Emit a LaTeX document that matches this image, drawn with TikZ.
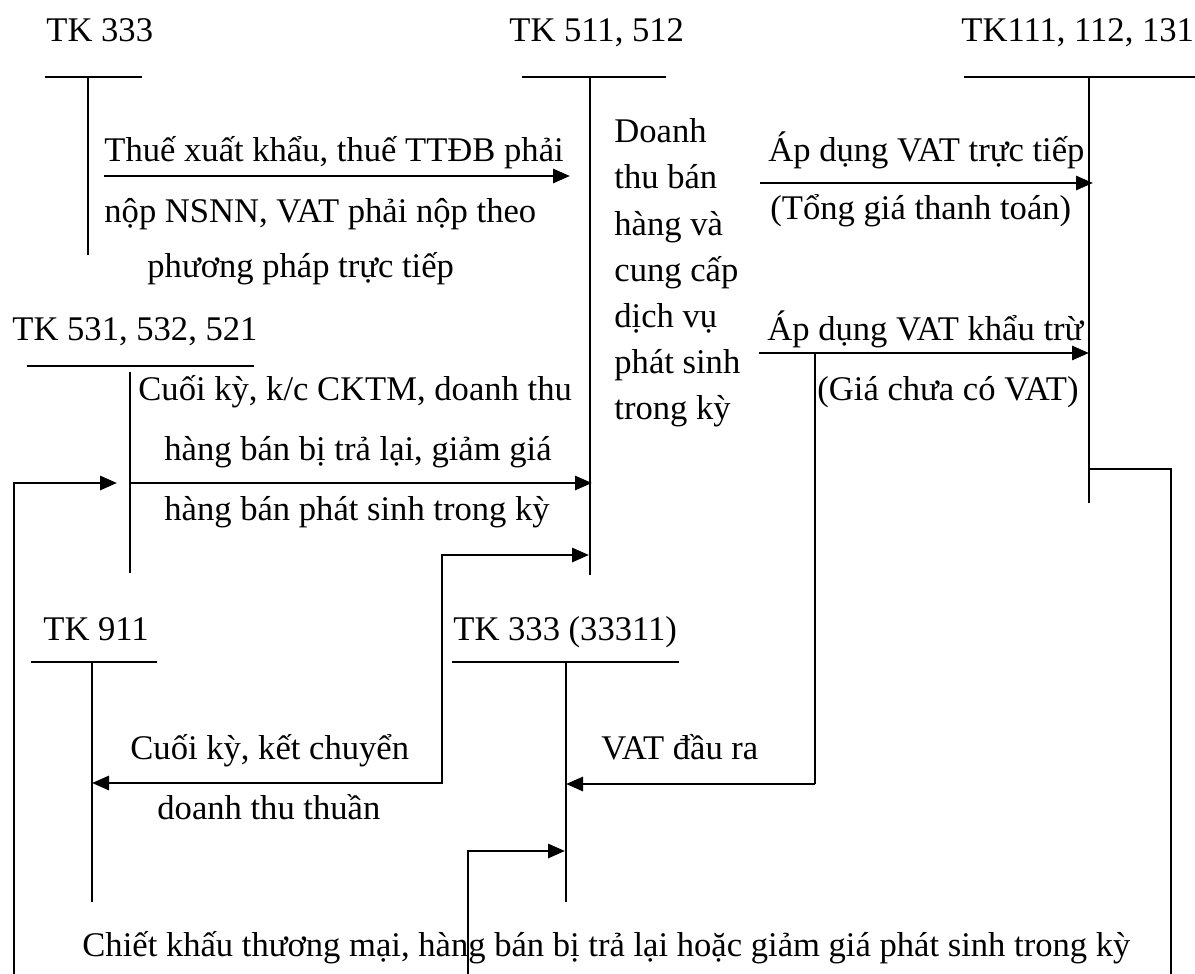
\documentclass[tikz,border=0pt]{standalone}
\usepackage{fontspec}
\setmainfont{Liberation Serif}
\usetikzlibrary{arrows.meta}
\begin{document}
\begin{tikzpicture}[x=0.5pt,y=-0.5pt,
  lbl/.style={inner sep=0pt, anchor=base west, font=\fontsize{17.3}{20}\selectfont},
  tline/.style={line width=1pt},
  flow/.style={line width=1.4pt, -{Triangle[length=8.5pt,width=7pt]}},
  twoway/.style={line width=1.4pt, {Triangle[length=8.5pt,width=7pt]}-{Triangle[length=8.5pt,width=7pt]}},
  link/.style={line width=1.2pt}]
\useasboundingbox (0,0) rectangle (1195,974);

% ---- account titles ----
\node[lbl] (t333)   at (46,42)   {TK 333};
\node[lbl] (t511)   at (509,42)  {TK 511, 512};
\node[lbl] (t111)   at (961,42)  {TK111, 112, 131};
\node[lbl] (t531)   at (12,340)  {TK 531, 532, 521};
\node[lbl] (t911)   at (43,640)  {TK 911};
\node[lbl] (t33311) at (453,640) {TK 333 (33311)};

% ---- T-account axes ----
\coordinate (a333)   at (88,77);   \coordinate (e333)   at (88,255);
\coordinate (a511)   at (590,77);  \coordinate (e511)   at (590,575);
\coordinate (a111)   at (1089,77); \coordinate (e111)   at (1089,503);
\coordinate (a531)   at (130,372); \coordinate (e531)   at (130,573);
\coordinate (a911)   at (92,662);  \coordinate (e911)   at (92,902);
\coordinate (a33311) at (566,662); \coordinate (e33311) at (566,902);

\draw[tline] (45,77) -- (142,77);   \draw[tline] (a333) -- (e333);
\draw[tline] (522,77) -- (666,77);  \draw[tline] (a511) -- (e511);
\draw[tline] (964,77) -- (1195,77); \draw[tline] (a111) -- (e111);
\draw[tline] (27,366) -- (254,366); \draw[tline] (a531) -- (e531);
\draw[tline] (31,662) -- (157,662); \draw[tline] (a911) -- (e911);
\draw[tline] (452,662) -- (679,662);\draw[tline] (a33311) -- (e33311);

% ---- connector end points ----
\coordinate (s1) at (104,176);  \coordinate (p1) at (570,176);
\coordinate (s2) at (760,183);  \coordinate (p2) at (1093,183);
\coordinate (s3) at (759,353);  \coordinate (p3) at (1089,353);
\coordinate (k3) at (815,353);  \coordinate (k3b) at (815,784);
\coordinate (p4) at (566,784);
\coordinate (s5) at (130,483);  \coordinate (p5) at (592,483);
\coordinate (b6) at (14,974);   \coordinate (k6) at (14,483);   \coordinate (p6) at (117,483);
\coordinate (p7a) at (92,783);  \coordinate (k7a) at (442,783); \coordinate (k7b) at (442,555); \coordinate (p7b) at (589,555);
\coordinate (b8) at (468,974);  \coordinate (k8) at (468,851);  \coordinate (p8) at (565,851);
\coordinate (k9) at (1089,469); \coordinate (k9b) at (1171,469); \coordinate (b9) at (1171,974);

% ---- connectors ----
\draw[flow] (s1) -- (p1);
\draw[flow] (s2) -- (p2);
\draw[flow] (s3) -- (p3);
\draw[link] (k3) -- (k3b);
\draw[flow] (k3b) -- (p4);
\draw[flow] (s5) -- (p5);
\draw[flow] (b6) -- (k6) -- (p6);
\draw[twoway] (p7a) -- (k7a) -- (k7b) -- (p7b);
\draw[flow] (b8) -- (k8) -- (p8);
\draw[link] (k9) -- (k9b) -- (b9);

% ---- labels ----
\node[lbl] (l1a) at (104,162) {Thuế xuất khẩu, thuế TTĐB phải};
\node[lbl] (l1b) at (104,222) {nộp NSNN, VAT phải nộp theo};
\node[lbl] (l1c) at (147,278) {phương pháp trực tiếp};

\foreach \t [count=\i] in {Doanh, thu bán, hàng và, cung cấp, dịch vụ, phát sinh, trong kỳ}
  \node[lbl] (d\i) at (614,{143+46*(\i-1)}) {\t};

\node[lbl] (l2a) at (768,162) {Áp dụng VAT trực tiếp};
\node[lbl] (l2b) at (770,220) {(Tổng giá thanh toán)};
\node[lbl] (l3a) at (767,340) {Áp dụng VAT khẩu trừ};
\node[lbl] (l3b) at (817,400) {(Giá chưa có VAT)};

\node[lbl] (l5a) at (138,400) {Cuối kỳ, k/c CKTM, doanh thu};
\node[lbl] (l5b) at (164,460) {hàng bán bị trả lại, giảm giá};
\node[lbl] (l5c) at (164,520) {hàng bán phát sinh trong kỳ};

\node[lbl] (l7a) at (130,759) {Cuối kỳ, kết chuyển};
\node[lbl] (l7b) at (157,819) {doanh thu thuần};
\node[lbl] (l4)  at (601,759) {VAT đầu ra};

\node[lbl] (l8) at (82,956) {Chiết khấu thương mại, hàng bán bị trả lại hoặc giảm giá phát sinh trong kỳ};
\end{tikzpicture}
\end{document}
